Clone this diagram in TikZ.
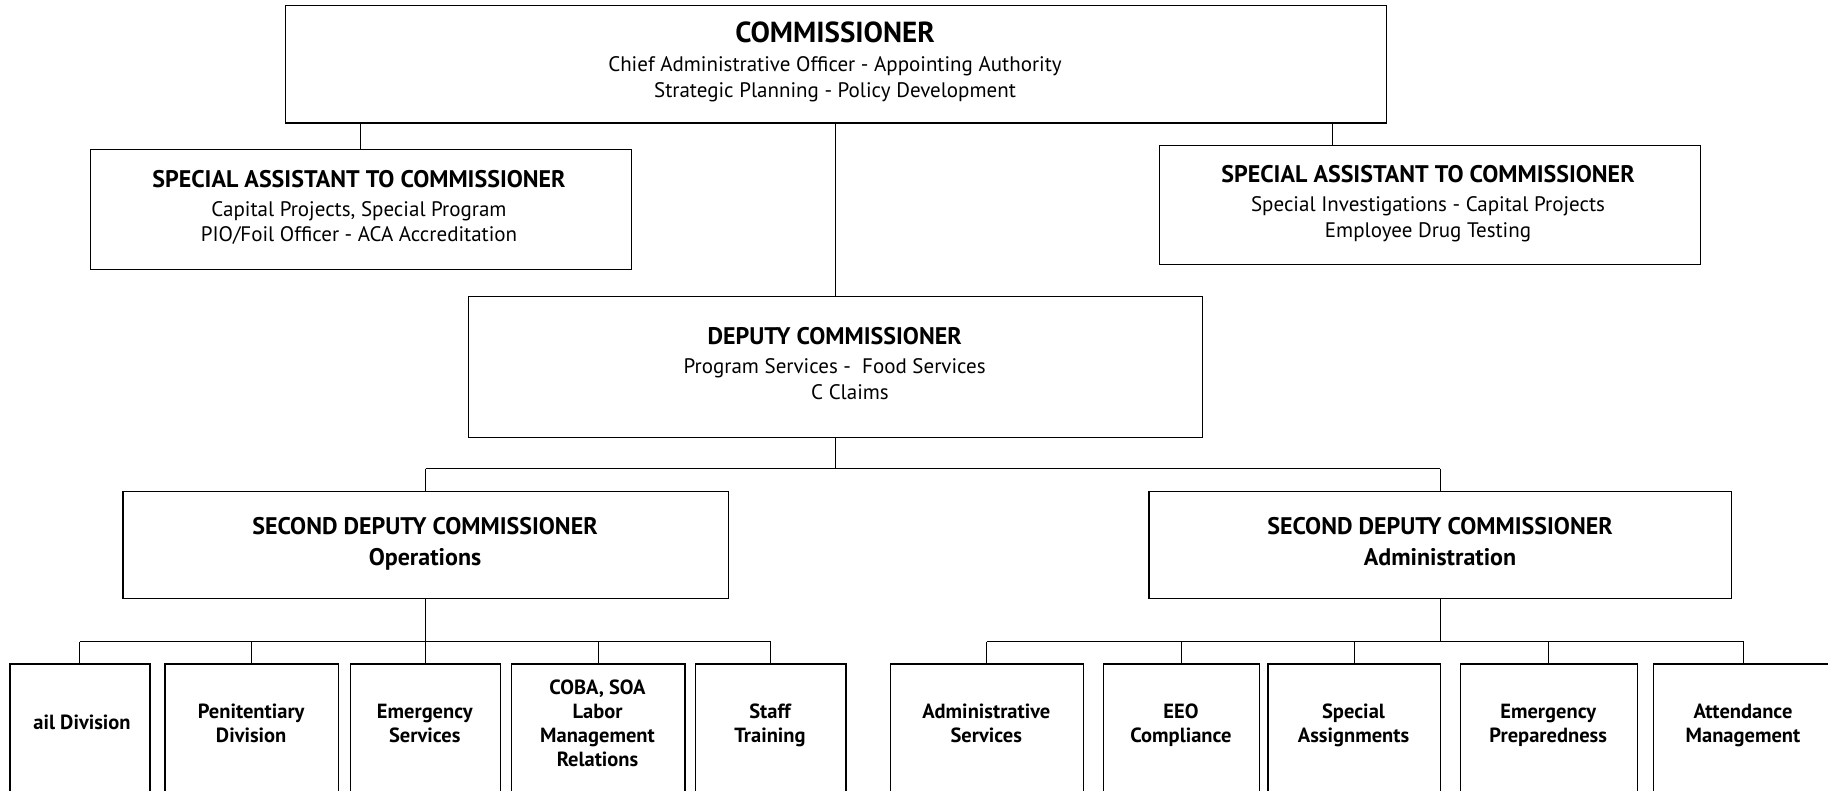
\documentclass[tikz,border=0pt]{standalone}
\usepackage{fontspec}
\setmainfont{PT Sans}
\begin{document}
\begin{tikzpicture}[x=1pt,y=-1pt,
  box/.style={draw, line width=1.4pt, inner sep=0pt, anchor=north west},
  conn/.style={draw, line width=1pt},
  ln/.style={inner sep=0pt, text depth=0pt, anchor=center},
  ttl/.style={ln, text height=16.8pt, font=\fontsize{24}{28}\selectfont\bfseries},
  big/.style={ln, text height=20.3pt, font=\fontsize{29}{33}\selectfont\bfseries},
  sub/.style={ln, text height=14.7pt, font=\fontsize{21}{25}\selectfont},
  bt/.style={ln, text height=14.35pt, font=\fontsize{20.5}{24}\selectfont\bfseries}
]
\useasboundingbox (0,0) rectangle (1828,790);
\clip (0,0) rectangle (1828,790);
\fill[white] (0,0) rectangle (1828,790);

% boxes
\node[box, minimum width=1101.5pt, minimum height=117.7pt] (comm) at (284.5,4.7) {};
\node[box, minimum width=540.9pt, minimum height=120pt] (saL) at (89.8,149) {};
\node[box, minimum width=540.9pt, minimum height=118.9pt] (saR) at (1158.8,144.6) {};
\node[box, minimum width=734.5pt, minimum height=141pt] (dep) at (467.5,296) {};
\node[box, minimum width=605.1pt, minimum height=107.2pt] (ops) at (122.4,490.8) {};
\node[box, minimum width=582.7pt, minimum height=107.2pt] (adm) at (1148.3,490.8) {};

\node[box, minimum width=139.9pt, minimum height=200pt] (o1) at (9.3,663.3) {};
\node[box, minimum width=173.6pt, minimum height=200pt] (o2) at (164.4,663.3) {};
\node[box, minimum width=150.3pt, minimum height=200pt] (o3) at (349.7,663.3) {};
\node[box, minimum width=173.7pt, minimum height=200pt] (o4) at (510.6,663.3) {};
\node[box, minimum width=150.4pt, minimum height=200pt] (o5) at (694.8,663.3) {};
\node[box, minimum width=193.5pt, minimum height=200pt] (a1) at (889.5,663.3) {};
\node[box, minimum width=156.2pt, minimum height=200pt] (a2) at (1102.8,663.3) {};
\node[box, minimum width=172.6pt, minimum height=200pt] (a3) at (1267.2,663.3) {};
\node[box, minimum width=177.2pt, minimum height=200pt] (a4) at (1459.6,663.3) {};
\node[box, minimum width=180pt, minimum height=200pt] (a5) at (1653,663.3) {};

% texts
\node[big] (commT) at (835,32.6) {COMMISSIONER};
\node[sub] (commA) at (835,64) {Chief Administrative Officer - Appointing Authority};
\node[sub] (commB) at (835,90) {Strategic Planning - Policy Development};

\node[ttl] (saLT) at (359,179.5) {SPECIAL ASSISTANT TO COMMISSIONER};
\node[sub] (saLA) at (359,208.7) {Capital Projects, Special Program};
\node[sub] (saLB) at (359,234.3) {PIO/Foil Officer - ACA Accreditation};

\node[ttl] (saRT) at (1428,173.7) {SPECIAL ASSISTANT TO COMMISSIONER};
\node[sub] (saRA) at (1428,204) {Special Investigations - Capital Projects};
\node[sub] (saRB) at (1428,229.7) {Employee Drug Testing};

\node[ttl] (depT) at (834.7,335.8) {DEPUTY COMMISSIONER};
\node[sub] (depA) at (834.7,366) {Program Services -\ \ Food Services};
\node[sub] (depB) at (850,391.7) {C Claims};

\node[ttl] (opsT) at (425,525.8) {SECOND DEPUTY COMMISSIONER};
\node[ttl] (opsA) at (425,557) {Operations};
\node[ttl] (admT) at (1440,525.8) {SECOND DEPUTY COMMISSIONER};
\node[ttl] (admA) at (1440,557) {Administration};

\node[bt] (o1T) at (82,722.8) {ail Division};
\node[bt] (o2T) at (251.2,711) {Penitentiary};
\node[bt] (o2U) at (251.2,735.6) {Division};
\node[bt] (o3T) at (424.8,711) {Emergency};
\node[bt] (o3U) at (424.8,735.6) {Services};
\node[bt] (o4T) at (597.5,687.8) {COBA, SOA};
\node[bt] (o4U) at (597.5,711) {Labor};
\node[bt] (o4V) at (597.5,735.6) {Management};
\node[bt] (o4W) at (597.5,759) {Relations};
\node[bt] (o5T) at (770,711) {Staff};
\node[bt] (o5U) at (770,735.6) {Training};

\node[bt] (a1T) at (986.3,711) {Administrative};
\node[bt] (a1U) at (986.3,735.6) {Services};
\node[bt] (a2T) at (1181,711) {EEO};
\node[bt] (a2U) at (1181,735.6) {Compliance};
\node[bt] (a3T) at (1353.5,711) {Special};
\node[bt] (a3U) at (1353.5,735.6) {Assignments};
\node[bt] (a4T) at (1548.2,711) {Emergency};
\node[bt] (a4U) at (1548.2,735.6) {Preparedness};
\node[bt] (a5T) at (1743,711) {Attendance};
\node[bt] (a5U) at (1743,735.6) {Management};

% connectors
\coordinate (cR) at (1332.5,0);
\draw[conn] (comm.south -| saL.north) -- (saL.north);
\draw[conn] (comm.south -| cR) -- (saR.north -| cR);
\draw[conn] (comm.south -| dep.north) -- (dep.north);

\coordinate (busD) at (0,468.7);
\draw[conn] (dep.south) -- (dep.south |- busD);
\draw[conn] (ops.north |- busD) -- (adm.north |- busD);
\draw[conn] (ops.north |- busD) -- (ops.north);
\draw[conn] (adm.north |- busD) -- (adm.north);

\coordinate (busO) at (0,641.5);
\draw[conn] (ops.south) -- (ops.south |- busO);
\draw[conn] (o1.north |- busO) -- (o5.north |- busO);
\foreach \b in {o1,o2,o3,o4,o5} \draw[conn] (\b.north |- busO) -- (\b.north);

\draw[conn] (adm.south) -- (adm.south |- busO);
\draw[conn] (a1.north |- busO) -- (a5.north |- busO);
\foreach \b in {a1,a2,a3,a4,a5} \draw[conn] (\b.north |- busO) -- (\b.north);
\end{tikzpicture}
\end{document}
